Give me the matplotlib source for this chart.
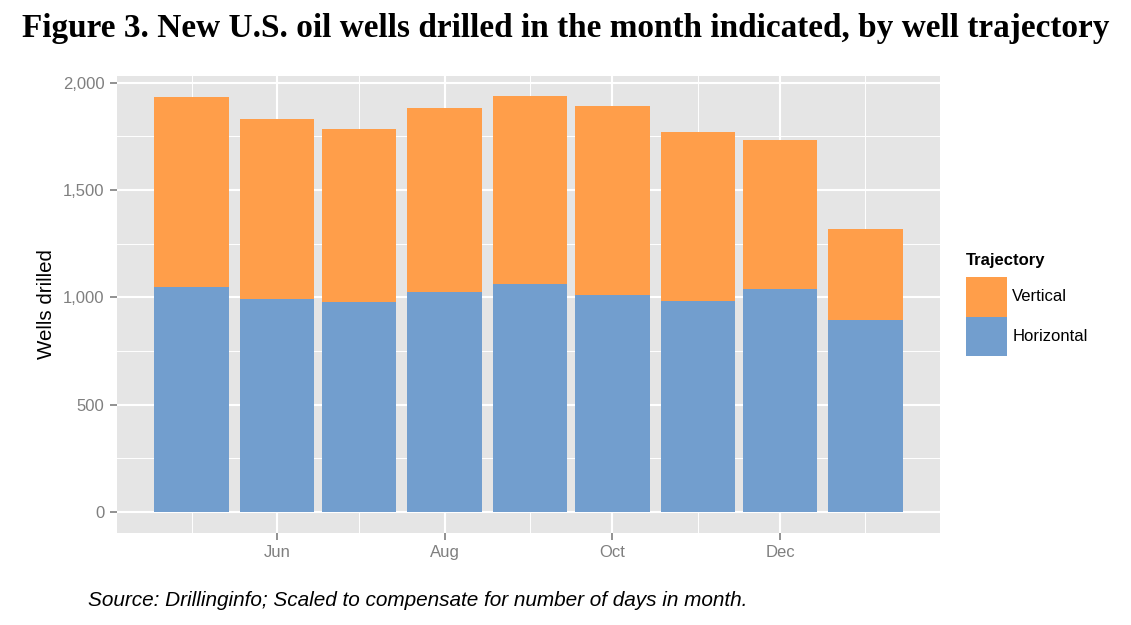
import matplotlib
matplotlib.use("Agg")
import matplotlib.pyplot as plt
import matplotlib.dates as mdates
from matplotlib.patches import Patch
from matplotlib.ticker import MultipleLocator
import pandas as pd
import numpy as np

# data (first day of each month)
months = pd.date_range("2014-05-01", "2015-01-01", freq="MS")
horizontal = [1048, 992, 980, 1026, 1063, 1011, 984, 1039, 896]
vertical = [884, 837, 803, 854, 873, 879, 785, 692, 422]
major_ticks = ["2014-06-01", "2014-08-01", "2014-10-01", "2014-12-01"]
tick_labels = ["Jun", "Aug", "Oct", "Dec"]

c_vert = "#FF9E4A"
c_horiz = "#729ECE"
grey = "#7F7F7F"

plt.rcParams["font.family"] = ["Liberation Sans", "DejaVu Sans"]

fig = plt.figure(figsize=(11.31, 6.25), dpi=100)
ax = fig.add_axes([117 / 1131, 1 - 532.7 / 625, (940 - 117) / 1131, (532.7 - 75.7) / 625])
ax.set_facecolor("#E5E5E5")

x = mdates.date2num(months)
width = 27
ax.bar(x, horizontal, width=width, color=c_horiz, zorder=3)
ax.bar(x, vertical, bottom=horizontal, width=width, color=c_vert, zorder=3)

# limits like ggplot's 5% expansion
span = (x[-1] + width / 2) - (x[0] - width / 2)
ax.set_xlim(x[0] - width / 2 - 0.05 * span, x[-1] + width / 2 + 0.05 * span)
top = max(h + v for h, v in zip(horizontal, vertical))
ax.set_ylim(-0.05 * top, top * 1.05)

ax.set_xticks(mdates.date2num(pd.to_datetime(major_ticks)))
ax.set_xticklabels(tick_labels)
ax.set_xticks(x[::2], minor=True)
ax.yaxis.set_major_locator(MultipleLocator(500))
ax.yaxis.set_minor_locator(MultipleLocator(250))
ax.yaxis.set_major_formatter(matplotlib.ticker.FuncFormatter(lambda v, p: f"{int(v):,}"))

ax.grid(which="major", color="white", linewidth=1.5, zorder=0)
ax.grid(which="minor", color="white", linewidth=0.7, zorder=0)
ax.set_axisbelow(True)
for s in ax.spines.values():
    s.set_visible(False)
ax.tick_params(which="major", colors=grey, labelsize=12, length=5, width=1.2, pad=4)
ax.tick_params(which="minor", length=0)
ax.tick_params(axis="x", pad=4)

ax.set_ylabel("Wells drilled", fontsize=14.8, labelpad=5)

handles = [Patch(facecolor=c_vert, edgecolor="none", label="Vertical"),
           Patch(facecolor=c_horiz, edgecolor="none", label="Horizontal")]
leg = fig.legend(handles=handles, title="Trajectory", loc="upper left",
                 bbox_to_anchor=(958 / 1131, 1 - 245 / 625), frameon=False,
                 fontsize=12, title_fontproperties={"weight": "bold", "size": 12},
                 handlelength=2.46, handleheight=3.3, labelspacing=0,
                 handletextpad=0.3, borderpad=0, alignment="left")
leg._legend_box.sep = 6

# title sized to span the figure width like the original
title = fig.text(0.5, 1 - 29 / 625, "Figure 3. New U.S. oil wells drilled in the month indicated, by well trajectory",
                 ha="center", va="center", fontsize=24, fontweight="bold",
                 family=["Liberation Serif", "DejaVu Serif"])
fig.canvas.draw()
w = title.get_window_extent().width
title.set_fontsize(24 * 1090 / w)

cap = fig.text(88 / 1131, 1 - 600 / 625, "Source: Drillinginfo; Scaled to compensate for number of days in month.",
               ha="left", va="center", fontsize=13, style="italic")
fig.canvas.draw()
w = cap.get_window_extent().width
cap.set_fontsize(13 * 660 / w)

fig.savefig("out.png", dpi=100)
